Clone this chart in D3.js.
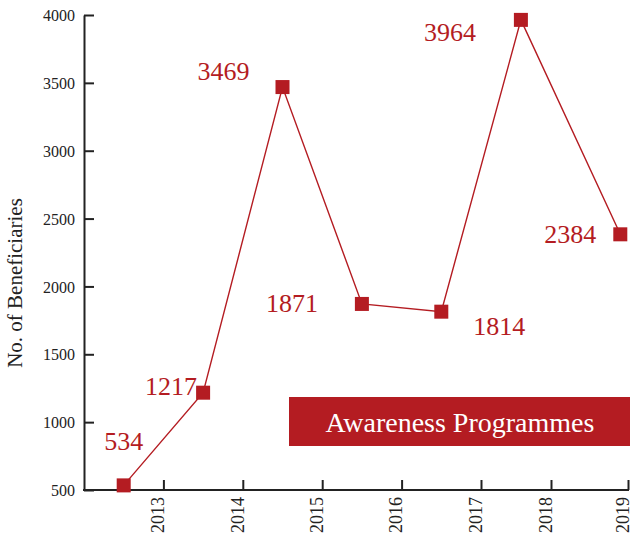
<!DOCTYPE html>
<html>
<head>
	<meta charset="utf-8">
	<style>
		html, body { margin: 0; padding: 0; background: white; }
		svg { display: block; font-family: "Liberation Serif", "DejaVu Serif", serif; }
		.axis path, .axis line { stroke: #222; stroke-width: 2; }
		.axis text { fill: #222; }
	</style>
</head>
<body>

<svg class="chart" width="632" height="545"></svg>

<script src="https://cdn.jsdelivr.net/npm/d3@7"></script>
<script>

// data
var years = [2012.5, 2013.5, 2014.5, 2015.5, 2016.5, 2017.57, 2018.9]
var beneficiaries = [534, 1217, 3469, 1871, 1814, 3964, 2384]
var yearTicks = [2013, 2014, 2015, 2016, 2017, 2018, 2019]
var countTicks = [500, 1000, 1500, 2000, 2500, 3000, 3500, 4000]
var title = 'Awareness Programmes'
var yLabel = 'No. of Beneficiaries'

// layout
var cfg = {
	left: 84,
	top: 15,
	right: 628,
	bottom: 490,
	tick: 10,
	marker: 14,
	red: '#b41c22',
	valueSize: 26,
}

// where each value label sits relative to its point [dx, dy, anchor]
var labelPlace = [
	[0, -35, 'middle'],
	[-6, 2, 'end'],
	[-33, -7, 'end'],
	[-44, 8, 'end'],
	[32, 23, 'start'],
	[-45, 21, 'end'],
	[-24, 9, 'end'],
]

var svg = d3.select('.chart')

// x spacing in the source is not quite even, so map years piecewise
var x = d3.scaleLinear()
	.domain([2012, 2017, 2018, 2019])
	.range([cfg.left, cfg.left + 397, cfg.left + 467, cfg.right])

var y = d3.scaleLinear()
	.domain([500, 4000])
	.range([cfg.bottom, cfg.top])

// axes, ticks point inward
var xAxis = svg.append('g')
	.attr('class', 'axis')
	.attr('transform', 'translate(0,' + cfg.bottom + ')')
	.call(d3.axisTop(x).tickValues(yearTicks).tickFormat(d3.format('d'))
		.tickSizeInner(cfg.tick).tickSizeOuter(0))
	.attr('font-family', null)
xAxis.select('.domain').attr('d', 'M' + (cfg.left - 1) + ',0H' + (cfg.right + 1))
xAxis.selectAll('text')
	.attr('font-size', 18)
	.attr('transform', 'rotate(-90)')
	.attr('text-anchor', 'end')
	.attr('x', -7)
	.attr('y', -6)
	.attr('dy', '0.35em')

var yAxis = svg.append('g')
	.attr('class', 'axis')
	.attr('transform', 'translate(' + cfg.left + ',0)')
	.call(d3.axisRight(y).tickValues(countTicks).tickFormat(d3.format('d'))
		.tickSizeInner(cfg.tick).tickSizeOuter(0))
	.attr('font-family', null)
yAxis.selectAll('text')
	.attr('font-size', 16)
	.attr('text-anchor', 'end')
	.attr('x', -9)
	.attr('dy', '0.35em')

svg.append('text')
	.attr('transform', 'translate(22,' + 283 + ') rotate(-90)')
	.attr('text-anchor', 'middle')
	.attr('font-size', 21)
	.attr('fill', '#222')
	.text(yLabel)

// title banner
svg.append('rect')
	.attr('x', 289)
	.attr('y', 397)
	.attr('width', 341)
	.attr('height', 49)
	.attr('fill', cfg.red)
svg.append('text')
	.attr('x', 460)
	.attr('y', 432)
	.attr('text-anchor', 'middle')
	.attr('font-size', 28)
	.attr('fill', 'white')
	.text(title)

// the line
var pts = years.map(function(yr, i) { return [yr, beneficiaries[i]] })

svg.append('path')
	.datum(pts)
	.attr('fill', 'none')
	.attr('stroke', cfg.red)
	.attr('stroke-width', 1.4)
	.attr('d', d3.line()
		.x(function(d) { return x(d[0]) })
		.y(function(d) { return y(d[1]) }))

// square markers
svg.selectAll('.marker')
	.data(pts)
	.enter().append('rect')
		.attr('class', 'marker')
		.attr('x', function(d) { return x(d[0]) - cfg.marker / 2 })
		.attr('y', function(d) { return y(d[1]) - cfg.marker / 2 })
		.attr('width', cfg.marker)
		.attr('height', cfg.marker)
		.attr('fill', cfg.red)

// value labels
svg.selectAll('.value')
	.data(pts)
	.enter().append('text')
		.attr('class', 'value')
		.attr('x', function(d, i) { return x(d[0]) + labelPlace[i][0] })
		.attr('y', function(d, i) { return y(d[1]) + labelPlace[i][1] })
		.attr('text-anchor', function(d, i) { return labelPlace[i][2] })
		.attr('font-size', cfg.valueSize)
		.attr('fill', cfg.red)
		.text(function(d) { return d[1] })

</script>

</body>
</html>
